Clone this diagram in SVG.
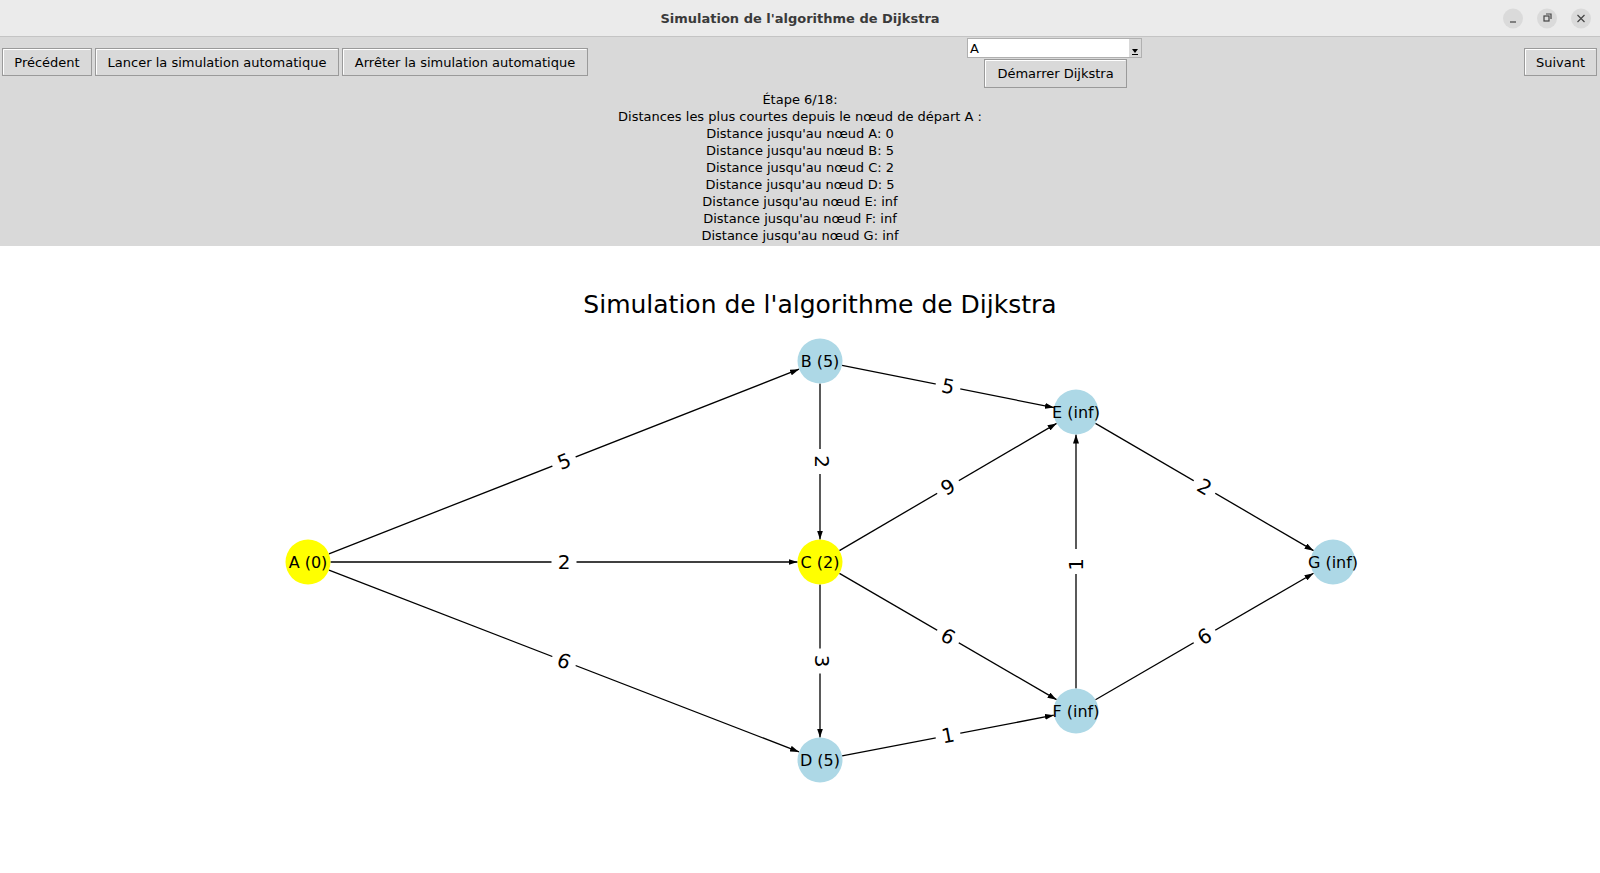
<svg xmlns="http://www.w3.org/2000/svg" width="1600" height="873" viewBox="0 0 1600 873">
<defs>
<style>
.ui{font-family:"DejaVu Sans","Liberation Sans",sans-serif;font-size:13px;fill:#000}
.btn{fill:#d9d9d9;stroke:#9a9a9a;stroke-width:1}
.hl{stroke:#ffffff;stroke-width:1;fill:none}
.edge{stroke:#000;stroke-width:1.3;fill:none;marker-end:url(#arr)}
.nl{font-family:"DejaVu Sans","Liberation Sans",sans-serif;font-size:16px;text-anchor:middle;fill:#000}
.el{font-family:"DejaVu Sans","Liberation Sans",sans-serif;font-size:20px;text-anchor:middle;fill:#000}
.lbox{fill:#fff}
.yel{fill:#ffff00}
.blu{fill:#add8e6}
.wc{fill:#dadada}
.wi{stroke:#444;stroke-width:1.2;fill:none}
</style>
<marker id="arr" viewBox="0 0 9 6" refX="9" refY="3" markerWidth="9" markerHeight="6" orient="auto" markerUnits="userSpaceOnUse"><path d="M0,0 L9,3 L0,6 z" fill="#000"/></marker>
</defs>
<rect x="0" y="0" width="1600" height="873" fill="#ffffff"/>
<g id="titlebar">
<rect x="0" y="0" width="1600" height="37" fill="#ebebeb"/>
<line x1="0" y1="36.5" x2="1600" y2="36.5" stroke="#c4c4c4"/>
<text x="800" y="23" text-anchor="middle" style="font-family:'DejaVu Sans','Liberation Sans',sans-serif;font-size:13px;font-weight:bold;fill:#3a3a3a">Simulation de l'algorithme de Dijkstra</text>
<circle class="wc" cx="1513" cy="18.5" r="10"/>
<circle class="wc" cx="1547" cy="18.5" r="10"/>
<circle class="wc" cx="1581" cy="18.5" r="10"/>
<line class="wi" x1="1510" y1="22" x2="1516" y2="22"/>
<rect class="wi" x="1544" y="16" width="5" height="5"/>
<path class="wi" d="M1546,14 h5 v5"/>
<path class="wi" d="M1577.5,15 L1584.5,22 M1584.5,15 L1577.5,22"/>
</g>
<g id="panel">
<rect x="0" y="37" width="1600" height="209" fill="#d9d9d9"/>
</g>
<g id="btn-prec">
<rect class="btn" x="2.5" y="48.5" width="89" height="27"/>
<path class="hl" d="M3.5,74.5 V49.5 H90.5"/>
<text class="ui" x="47" y="66.5" text-anchor="middle">Précédent</text>
</g>
<g id="btn-lancer">
<rect class="btn" x="95.5" y="48.5" width="243" height="27"/>
<path class="hl" d="M96.5,74.5 V49.5 H337.5"/>
<text class="ui" x="217" y="66.5" text-anchor="middle">Lancer la simulation automatique</text>
</g>
<g id="btn-arreter">
<rect class="btn" x="342.5" y="48.5" width="245" height="27"/>
<path class="hl" d="M343.5,74.5 V49.5 H586.5"/>
<text class="ui" x="465" y="66.5" text-anchor="middle">Arrêter la simulation automatique</text>
</g>
<g id="combo">
<rect x="967.5" y="38.5" width="174" height="19" fill="#ffffff" stroke="#b0b0b0"/>
<rect x="1129" y="39" width="12" height="18" fill="#d9d9d9"/>
<path d="M1132,49 L1138,49 L1135,53 z" fill="#000"/>
<line x1="1132" y1="54.5" x2="1138" y2="54.5" stroke="#000"/>
<text class="ui" x="970" y="53">A</text>
</g>
<g id="btn-demarrer">
<rect class="btn" x="984.5" y="59.5" width="142" height="28"/>
<path class="hl" d="M985.5,86.5 V60.5 H1125.5"/>
<text class="ui" x="1055.5" y="78" text-anchor="middle">Démarrer Dijkstra</text>
</g>
<g id="btn-suivant">
<rect class="btn" x="1524.5" y="48.5" width="72" height="27"/>
<path class="hl" d="M1525.5,74.5 V49.5 H1595.5"/>
<text class="ui" x="1560.5" y="66.5" text-anchor="middle">Suivant</text>
</g>
<g id="status" class="ui" text-anchor="middle">
<text x="800" y="103.5">Étape 6/18:</text>
<text x="800" y="120.5">Distances les plus courtes depuis le nœud de départ A :</text>
<text x="800" y="137.5">Distance jusqu'au nœud A: 0</text>
<text x="800" y="154.5">Distance jusqu'au nœud B: 5</text>
<text x="800" y="171.5">Distance jusqu'au nœud C: 2</text>
<text x="800" y="188.5">Distance jusqu'au nœud D: 5</text>
<text x="800" y="205.5">Distance jusqu'au nœud E: inf</text>
<text x="800" y="222.5">Distance jusqu'au nœud F: inf</text>
<text x="800" y="239.5">Distance jusqu'au nœud G: inf</text>
</g>
<text x="820" y="313" text-anchor="middle" style="font-family:'DejaVu Sans','Liberation Sans',sans-serif;font-size:25px;fill:#000">Simulation de l'algorithme de Dijkstra</text>
<g id="edges">
<line class="edge" x1="328.94" y1="553.78" x2="799.06" y2="369.22"/>
<line class="edge" x1="330.5" y1="562" x2="797.5" y2="562"/>
<line class="edge" x1="328.99" y1="570.12" x2="799.01" y2="751.88"/>
<line class="edge" x1="820" y1="383.5" x2="820" y2="539.5"/>
<line class="edge" x1="842.07" y1="365.4" x2="1053.93" y2="407.6"/>
<line class="edge" x1="839.41" y1="550.62" x2="1056.59" y2="423.38"/>
<line class="edge" x1="839.45" y1="573.32" x2="1056.55" y2="699.68"/>
<line class="edge" x1="820" y1="584.5" x2="820" y2="737.5"/>
<line class="edge" x1="842.1" y1="755.77" x2="1053.9" y2="715.23"/>
<line class="edge" x1="1076" y1="688.5" x2="1076" y2="434.5"/>
<line class="edge" x1="1095.43" y1="423.34" x2="1313.57" y2="550.66"/>
<line class="edge" x1="1095.47" y1="699.71" x2="1313.53" y2="573.29"/>
<g transform="translate(564,461.5) rotate(-21.43)"><rect class="lbox" x="-12.5" y="-14.5" width="25" height="29" rx="4"/><text class="el" y="7">5</text></g>
<g transform="translate(564,562)"><rect class="lbox" x="-12.5" y="-14.5" width="25" height="29" rx="4"/><text class="el" y="7">2</text></g>
<g transform="translate(564,661) rotate(21.14)"><rect class="lbox" x="-12.5" y="-14.5" width="25" height="29" rx="4"/><text class="el" y="7">6</text></g>
<g transform="translate(820,461.5) rotate(90)"><rect class="lbox" x="-12.5" y="-14.5" width="25" height="29" rx="4"/><text class="el" y="5">2</text></g>
<g transform="translate(948,386.5) rotate(11.27)"><rect class="lbox" x="-12.5" y="-14.5" width="25" height="29" rx="4"/><text class="el" y="7">5</text></g>
<g transform="translate(948,487) rotate(-30.37)"><rect class="lbox" x="-12.5" y="-14.5" width="25" height="29" rx="4"/><text class="el" y="7">9</text></g>
<g transform="translate(948,636.5) rotate(30.2)"><rect class="lbox" x="-12.5" y="-14.5" width="25" height="29" rx="4"/><text class="el" y="7">6</text></g>
<g transform="translate(820,661) rotate(90)"><rect class="lbox" x="-12.5" y="-14.5" width="25" height="29" rx="4"/><text class="el" y="5">3</text></g>
<g transform="translate(948,735.5) rotate(-10.84)"><rect class="lbox" x="-12.5" y="-14.5" width="25" height="29" rx="4"/><text class="el" y="7">1</text></g>
<g transform="translate(1076,561.5) rotate(-90)"><rect class="lbox" x="-12.5" y="-14.5" width="25" height="29" rx="4"/><text class="el" x="-3" y="7">1</text></g>
<g transform="translate(1204.5,487) rotate(30.27)"><rect class="lbox" x="-12.5" y="-14.5" width="25" height="29" rx="4"/><text class="el" y="7">2</text></g>
<g transform="translate(1204.5,636.5) rotate(-30.1)"><rect class="lbox" x="-12.5" y="-14.5" width="25" height="29" rx="4"/><text class="el" y="7">6</text></g>
</g>
<g id="node-A"><circle class="yel" cx="308" cy="562" r="22.5"/><text class="nl" x="308" y="567.8">A (0)</text></g>
<g id="node-B"><circle class="blu" cx="820" cy="361" r="22.5"/><text class="nl" x="820" y="366.8">B (5)</text></g>
<g id="node-C"><circle class="yel" cx="820" cy="562" r="22.5"/><text class="nl" x="820" y="567.8">C (2)</text></g>
<g id="node-D"><circle class="blu" cx="820" cy="760" r="22.5"/><text class="nl" x="820" y="765.8">D (5)</text></g>
<g id="node-E"><circle class="blu" cx="1076" cy="412" r="22.5"/><text class="nl" x="1076" y="417.8">E (inf)</text></g>
<g id="node-F"><circle class="blu" cx="1076" cy="711" r="22.5"/><text class="nl" x="1076" y="716.8">F (inf)</text></g>
<g id="node-G"><circle class="blu" cx="1333" cy="562" r="22.5"/><text class="nl" x="1333" y="567.8">G (inf)</text></g>
</svg>
